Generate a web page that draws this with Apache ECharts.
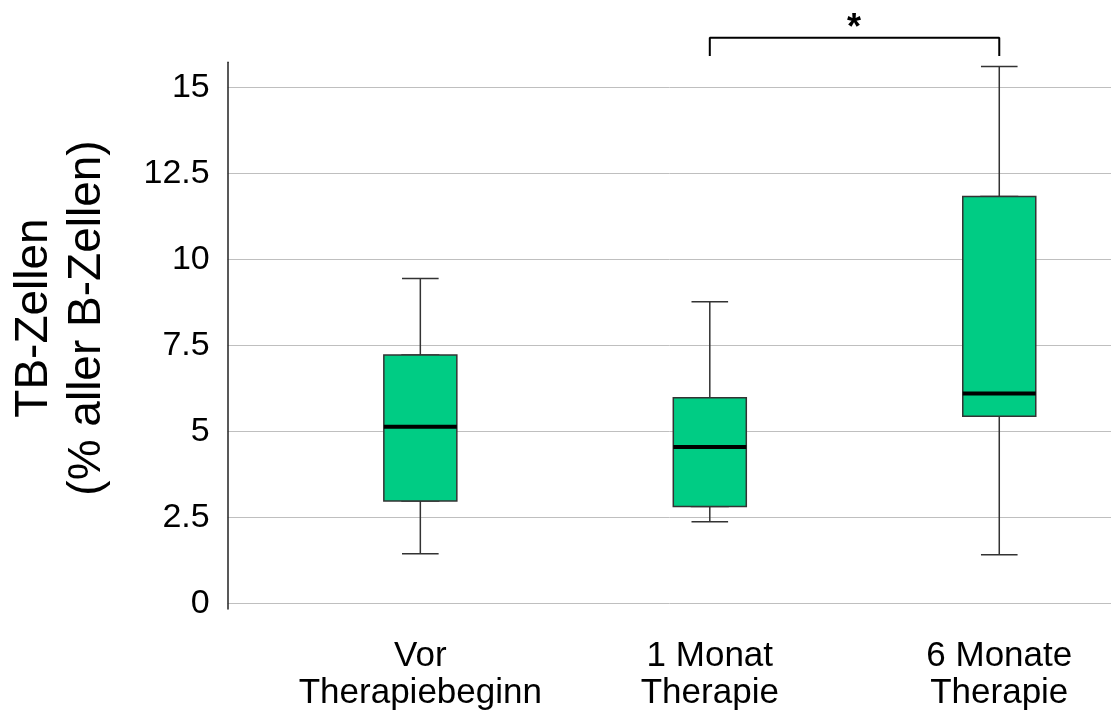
<!DOCTYPE html>
<html><head><meta charset="utf-8">
<script src="https://cdn.jsdelivr.net/npm/echarts@6/dist/echarts.min.js"></script>
<style>html,body{margin:0;padding:0;background:#fff}#c{width:1111px;height:715px}</style>
</head><body><div id="c"></div>
<script>
// ---- data ----
const categories = ['Vor\nTherapiebeginn', '1 Monat\nTherapie', '6 Monate\nTherapie'];
const mins    = [1.44, 2.37, 1.41];
const q1s     = [2.97, 2.81, 5.43];
const medians = [5.13, 4.54, 6.09];
const q3s     = [7.21, 5.97, 11.81];
const maxs    = [9.43, 8.76, 15.59];
const yTickMin = 0, yTickMax = 15, yTickStep = 2.5;
const sigPair = [1, 2];          // compared groups (category indices)
const sigFoot = 15.89, sigTop = 16.42;
const sigLabel = '*';
const yName = 'TB-Zellen\n(% aller B-Zellen)';

// ---- style ----
const FONT = '"Liberation Sans", Arial, sans-serif';
const BOX_COLOR = '#00CC84';
const EDGE = '#333333';

const chart = echarts.init(document.getElementById('c'), null, {renderer: 'canvas'});
const option = {
  backgroundColor: '#ffffff',
  animation: false,
  textStyle: {fontFamily: FONT},
  grid: [
    {left: 227.7, top: 87.3, width: 883.3, height: 516, outerBoundsMode: 'none', containLabel: false},
    {left: 275.6, top: 62.3, width: 868.4, height: 546.7, outerBoundsMode: 'none', containLabel: false}
  ],
  xAxis: [
    {gridIndex: 0, type: 'value', min: 0, max: 1, show: false},
    {gridIndex: 1, type: 'category', data: categories,
     axisLine: {show: false}, axisTick: {show: false}, splitLine: {show: false},
     axisLabel: {fontSize: 35, lineHeight: 37, color: '#000', margin: 29, fontFamily: FONT, interval: 0}},
    {gridIndex: 1, type: 'category', data: categories, show: false}
  ],
  yAxis: [
    {gridIndex: 0, type: 'value', min: yTickMin, max: yTickMax, interval: yTickStep,
     axisLine: {show: false}, axisTick: {show: false},
     splitLine: {show: true, lineStyle: {color: '#bfbfbf', width: 1}},
     axisLabel: {fontSize: 34, color: '#000', margin: 18, fontFamily: FONT}},
    {gridIndex: 1, type: 'value', min: -0.166, max: 15.71, offset: 47.9,
     axisLine: {show: true, lineStyle: {color: '#222', width: 1.5}},
     axisTick: {show: false}, axisLabel: {show: false}, splitLine: {show: false}}
  ],
  series: [
    { // whiskers with half-width caps
      type: 'boxplot', xAxisIndex: 2, yAxisIndex: 1, boxWidth: [36.6, 36.6], silent: true,
      itemStyle: {color: BOX_COLOR, borderColor: EDGE, borderWidth: 1.5},
      data: categories.map((_, i) => [mins[i], q1s[i], medians[i], q3s[i], maxs[i]])
    },
    { // boxes (Q1..Q3)
      type: 'boxplot', xAxisIndex: 1, yAxisIndex: 1, boxWidth: [73, 73], silent: true,
      itemStyle: {color: BOX_COLOR, borderColor: EDGE, borderWidth: 1.5},
      data: categories.map((_, i) => [q1s[i], q1s[i], medians[i], q3s[i], q3s[i]])
    },
    { // thick median lines
      type: 'scatter', xAxisIndex: 1, yAxisIndex: 1, symbol: 'rect', symbolSize: [73, 4], silent: true, z: 5,
      itemStyle: {color: '#000', opacity: 1},
      data: medians.map((m, i) => [i, m])
    },
    { // significance bracket
      type: 'line', xAxisIndex: 1, yAxisIndex: 1, symbol: 'none', clip: false, silent: true,
      lineStyle: {color: '#000', width: 2},
      data: [[sigPair[0], sigFoot], [sigPair[0], sigTop], [sigPair[1], sigTop], [sigPair[1], sigFoot]]
    }
  ],
  graphic: [
    {type: 'text', x: 61, y: 318, rotation: Math.PI / 2, silent: true,
     style: {text: yName, fontSize: 46, lineHeight: 53, align: 'center', verticalAlign: 'middle', fill: '#000', fontFamily: FONT}},
    {type: 'text', x: 854, y: 29, silent: true,
     style: {text: sigLabel, fontSize: 36, fontWeight: 'bold', align: 'center', verticalAlign: 'middle', fill: '#000', fontFamily: FONT}}
  ]
};
chart.setOption(option);
</script></body></html>
